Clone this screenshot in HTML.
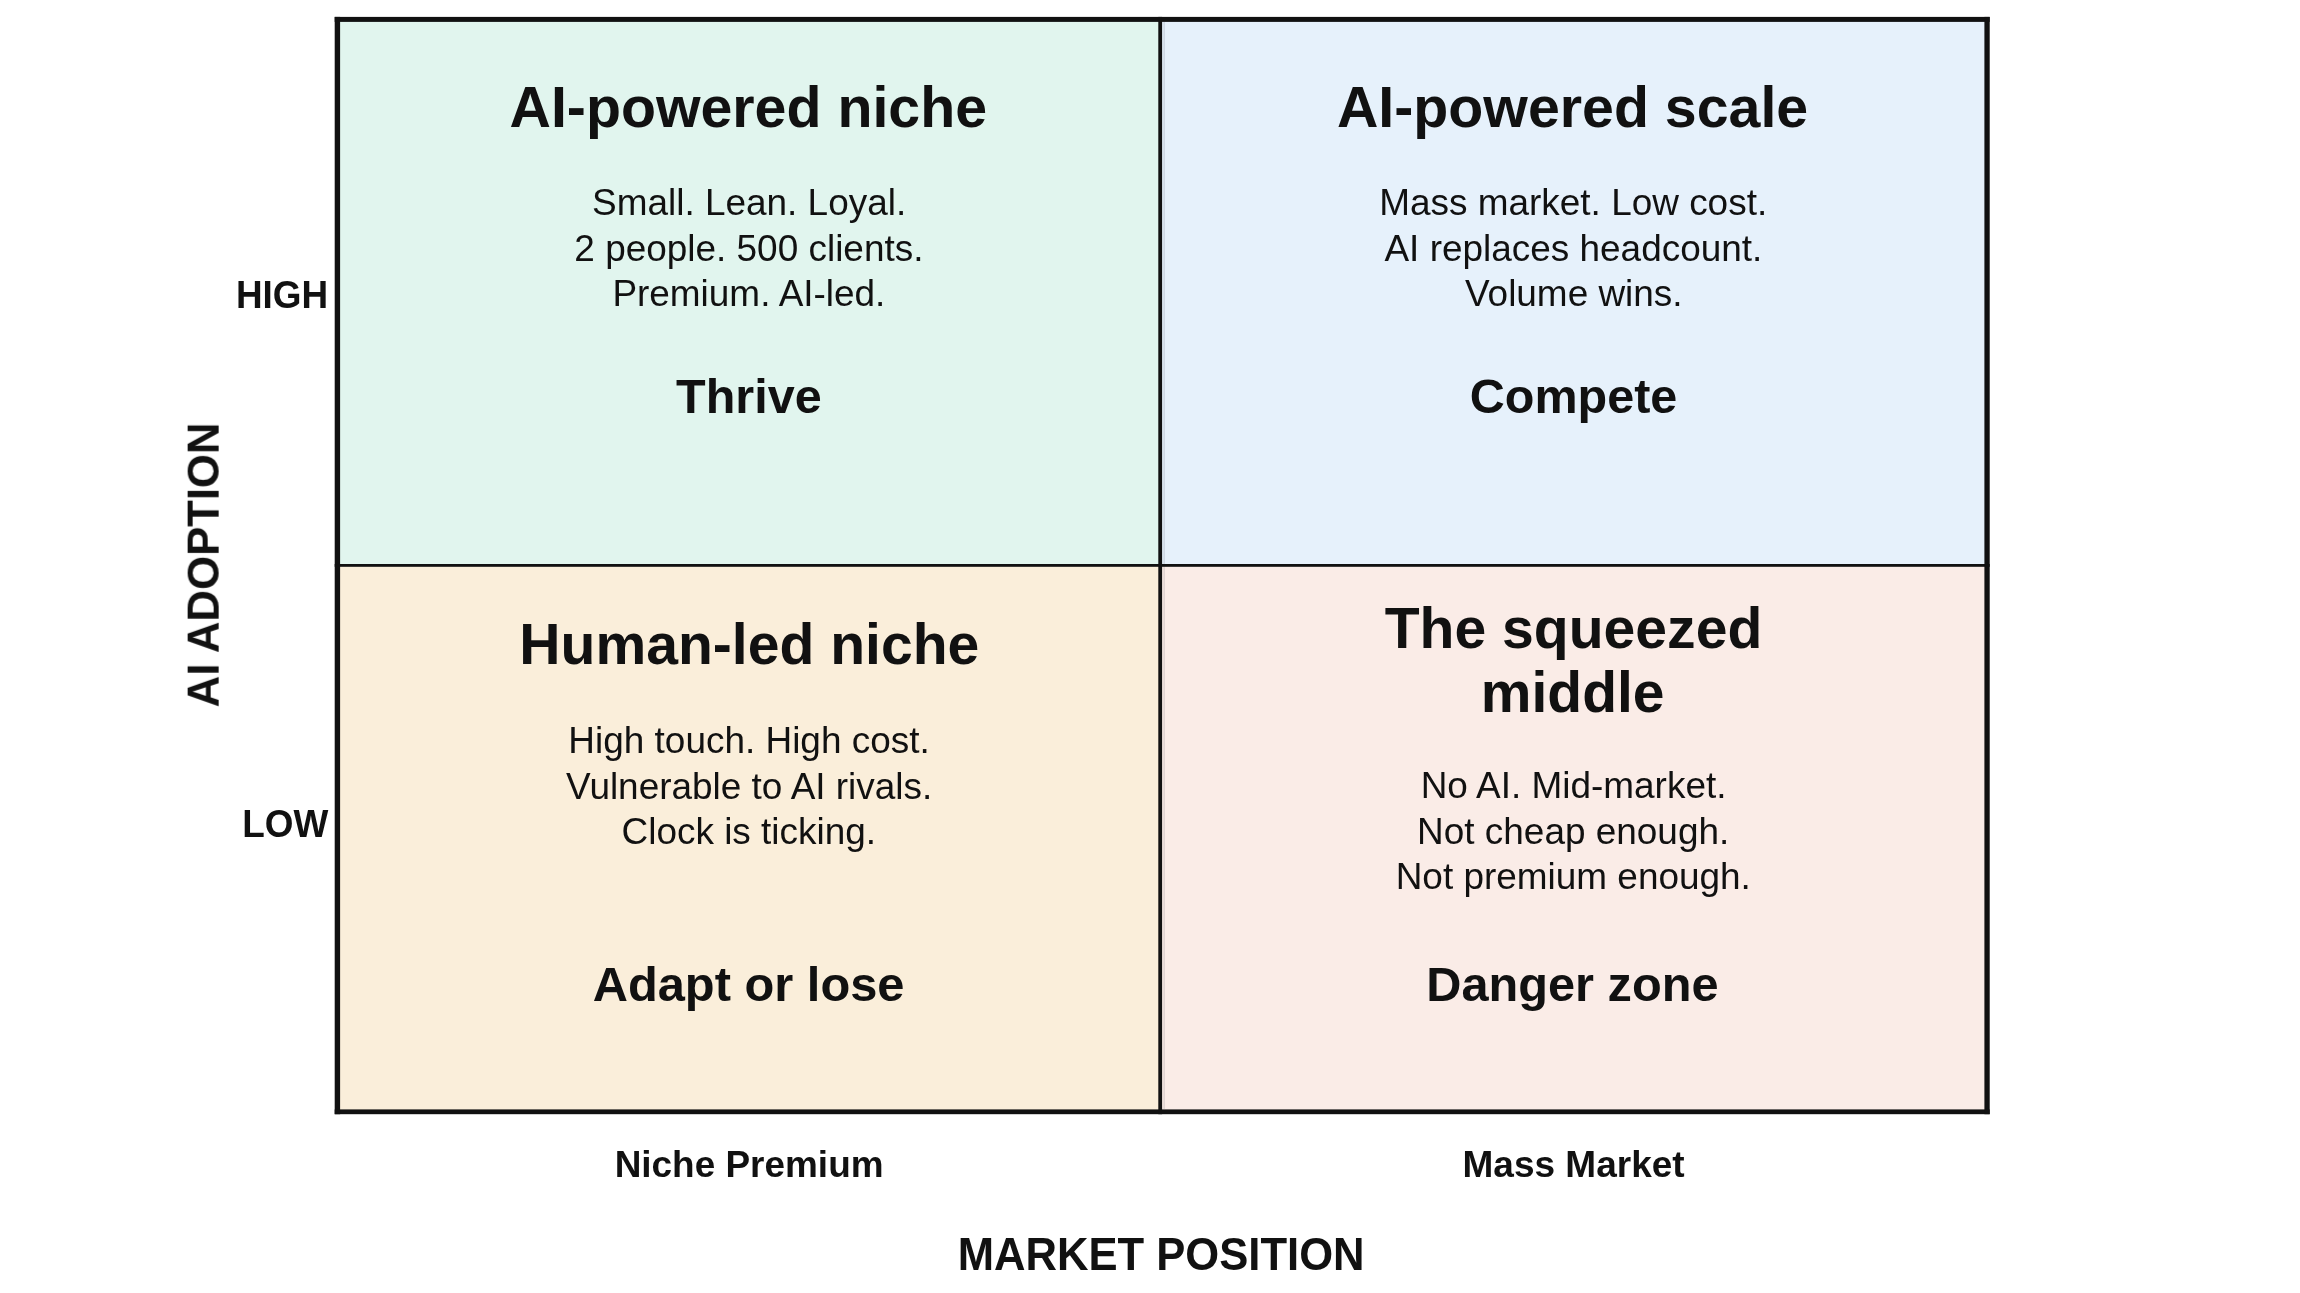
<!DOCTYPE html>
<html lang="en">
<head>
<meta charset="utf-8">
<title>AI adoption vs market position matrix</title>
<style>
html,body{margin:0;padding:0;background:#ffffff;}
body{width:2300px;height:1293px;position:relative;overflow:hidden;font-family:"Liberation Sans",sans-serif;color:#111111;}
#grid{position:absolute;left:0;top:0;display:block;}
#txt{position:absolute;left:0;top:0;width:2300px;height:1293px;will-change:transform;transform:translateZ(0);}
.t{position:absolute;white-space:nowrap;text-align:center;line-height:1;width:1000px;margin-left:-500px;transform-origin:50% 84.65%;}
.b{font-weight:700;}
</style>
</head>
<body>
<!-- quadrant fills, frame and dividers -->
<svg id="grid" width="2300" height="1293" viewBox="0 0 2300 1293">
<rect x="335.7" y="17.9" width="824.5" height="547.5" fill="#e1f5ee"/>
<rect x="1160.2" y="17.9" width="828.5" height="547.5" fill="#e6f1fb"/>
<rect x="335.7" y="565.4" width="824.5" height="547.8" fill="#faeeda"/>
<rect x="1160.2" y="565.4" width="828.5" height="547.8" fill="#faece7"/>
<rect x="1163.5" y="22" width="1.3" height="1087" fill="#28283c" fill-opacity="0.15"/>
<rect x="1158.3" y="16.9" width="3.8" height="1097.3" fill="#111111"/>
<rect x="334.7" y="564" width="1655" height="2.8" fill="#111111"/>
<rect x="334.7" y="16.9" width="1655" height="5" fill="#111111"/>
<rect x="334.7" y="1109.4" width="1655" height="4.8" fill="#111111"/>
<rect x="334.7" y="16.9" width="5.4" height="1097.3" fill="#111111"/>
<rect x="1984.4" y="16.9" width="5.3" height="1097.3" fill="#111111"/>
</svg>
<!-- text -->
<div id="txt">
<div id="t1" class="t b" style="left:748.3px;top:79.1px;font-size:57.3px">AI-powered niche</div>
<div id="b11" class="t" style="left:749.1px;top:185.02px;font-size:36.95px">Small. Lean. Loyal.</div>
<div id="b12" class="t" style="left:748.9px;top:230.82px;font-size:36.95px">2 people. 500 clients.</div>
<div id="b13" class="t" style="left:748.9px;top:275.92px;font-size:36.95px">Premium. AI-led.</div>
<div id="s1" class="t b" style="left:748.9px;top:371.94px;font-size:48.5px">Thrive</div>
<div id="t2" class="t b" style="left:1572.6px;top:79.1px;font-size:57.3px">AI-powered scale</div>
<div id="b21" class="t" style="left:1573.2px;top:184.72px;font-size:36.95px">Mass market. Low cost.</div>
<div id="b22" class="t" style="left:1573.4px;top:230.82px;font-size:36.95px">AI replaces headcount.</div>
<div id="b23" class="t" style="left:1573.8px;top:275.72px;font-size:36.95px">Volume wins.</div>
<div id="s2" class="t b" style="left:1573.55px;top:371.94px;font-size:48.5px">Compete</div>
<div id="t3" class="t b" style="left:749.3px;top:615.76px;font-size:57.1px">Human-led niche</div>
<div id="b31" class="t" style="left:749.05px;top:722.72px;font-size:36.95px">High touch. High cost.</div>
<div id="b32" class="t" style="left:749.2px;top:768.82px;font-size:36.95px">Vulnerable to AI rivals.</div>
<div id="b33" class="t" style="left:748.8px;top:813.92px;font-size:36.95px">Clock is ticking.</div>
<div id="s3" class="t b" style="left:748.6px;top:959.89px;font-size:48.8px">Adapt or lose</div>
<div id="t4a" class="t b" style="left:1573.5px;top:599.76px;font-size:57.1px">The squeezed</div>
<div id="t4b" class="t b" style="left:1572.7px;top:664.15px;font-size:57px">middle</div>
<div id="b41" class="t" style="left:1573.55px;top:767.92px;font-size:36.95px">No AI. Mid-market.</div>
<div id="b42" class="t" style="left:1573.2px;top:813.82px;font-size:36.95px">Not cheap enough.</div>
<div id="b43" class="t" style="left:1573.3px;top:859.02px;font-size:36.95px">Not premium enough.</div>
<div id="s4" class="t b" style="left:1572.4px;top:959.98px;font-size:48.7px">Danger zone</div>
<div id="hi" class="t b" style="left:282px;top:277.76px;font-size:36.9px;transform:scaleY(1.04)">HIGH</div>
<div id="lo" class="t b" style="left:285.2px;top:806.56px;font-size:36.9px;transform:scaleY(1.04)">LOW</div>
<div id="np" class="t b" style="left:749.1px;top:1146.62px;font-size:36.95px">Niche Premium</div>
<div id="mm" class="t b" style="left:1573.6px;top:1146.08px;font-size:37px">Mass Market</div>
<div id="mp" class="t b" style="left:1161.1px;top:1233.69px;font-size:43.6px;transform:scaleY(1.04)">MARKET POSITION</div>
<div id="ai" class="t b" style="margin-left:0;left:-297.2px;top:542.75px;font-size:43.7px;transform-origin:50% 50%;transform:rotate(-90deg) scaleY(1.02)">AI ADOPTION</div>
</div>
</body>
</html>
